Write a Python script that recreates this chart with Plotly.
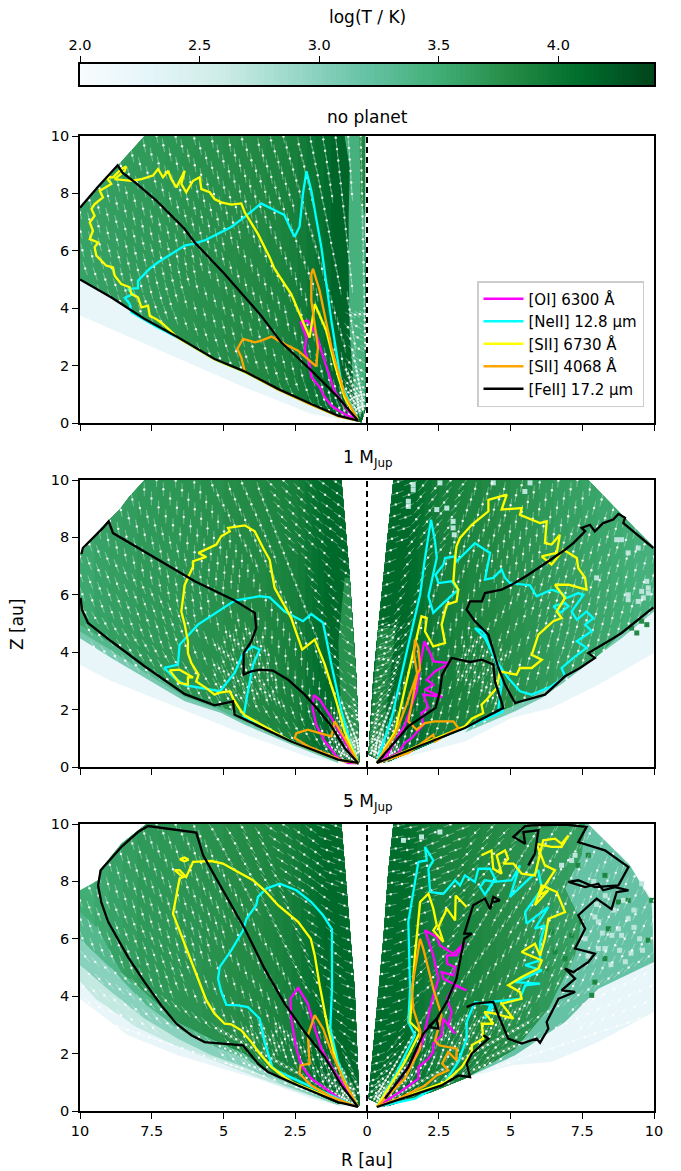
import numpy as np
import plotly.graph_objects as go

W, H = 681, 1171

# ---------- colour scale ----------
cb_min, cb_max = 2.0, 4.4
bugn_pos = [0, .125, .25, .375, .5, .625, .75, .875, 1]
bugn_hex = ["#f7fcfd", "#e5f5f9", "#ccece6", "#99d8c9", "#66c2a4", "#41ae76", "#238b45", "#006d2c", "#00441b"]
cb_ticks = [2.0, 2.5, 3.0, 3.5, 4.0]
r_ticks = [-10, -7.5, -5, -2.5, 0, 2.5, 5, 7.5, 10]
r_labels = ["10", "7.5", "5", "2.5", "0", "2.5", "5", "7.5", "10"]
z_ticks = [0, 2, 4, 6, 8, 10]

# ---------- temperature regions: outlines in au and logT bands ----------
p1l_pale = [(-0.3,.03),(-1.94,.31),(-4.26,1.24),(-7.17,2.52),(-10,3.75),(-10,5.2),(-1,1)]
p1l_wedge = [(-.2,.03),(-1.01,.24),(-1.94,.64),(-3.10,1.17),(-4.27,1.78),(-5.31,2.21),(-6.59,2.97),(-7.76,3.61),(-8.92,4.36),(-10,4.98),(-10,7.5),(-9.2,8.4),(-8.7,8.95),(-8.2,9.5),(-7.75,10),(-.08,10),(-.05,.5)]
p1l_bands = [(-10,3.6),(-9.5,3.62),(-9,3.64),(-8.5,3.66),(-8,3.67),(-7.5,3.69),(-7,3.71),(-6.5,3.73),(-6,3.75),(-5.5,3.76),(-5,3.78),(-4.5,3.8),(-4,3.82),(-3.5,3.85),(-3,3.88),(-2.7,3.91),(-2.4,3.95),(-2.1,3.99),(-1.8,4.04),(-1.5,4.09),(-1.25,4.16)]
p1l_strip = [(-.78,10),(-.6,8.9),(-.64,7.17),(-.64,5.42),(-.6,3.1),(-.43,.78),(-.26,.2),(-.06,.6),(-.06,10)]
p1l_strip_level = 3.45
p1l_core = [(-.26,10),(-.22,7.75),(-.06,7.2),(-.06,10)]
p1l_core_level = 3.85

p2l_pale = [(-.3,.05),(-1.94,.31),(-4.26,1.13),(-6.53,2.05),(-8.91,3.0),(-10,3.55),(-10,7),(-1,2)]
p2l_mid = [(-1.01,.14),(-2.64,.78),(-4.26,1.47),(-5.08,1.88),(-6.35,2.29),(-7.75,3.10),(-8.91,3.80),(-10,4.49),(-10,7),(-1,2)]
p2l_mid2 = [(-1.01,.2),(-2.64,.84),(-4.26,1.56),(-5.2,2.02),(-6.35,2.44),(-7.75,3.3),(-8.91,4.06),(-10,4.72),(-10,7),(-1,2)]
p2l_wedge = [(-.31,.1),(-1.01,.26),(-2.64,.89),(-4.26,1.65),(-4.61,1.94),(-5.31,2.17),(-6.35,2.58),(-7.75,3.51),(-8.91,4.32),(-10,4.96),(-10,7.45),(-9.2,8.4),(-8.6,9.0),(-8.3,9.4),(-7.75,10),(-.89,10),(-.6,6.59),(-.37,3.1),(-.26,.2)]
p2l_bands = [(-10,3.55),(-9.5,3.6),(-9,3.63),(-8.5,3.65),(-8,3.68),(-7.25,3.7),(-6.5,3.72),(-5.75,3.75),(-5,3.78),(-4.5,3.8),(-4,3.82),(-3.5,3.85),(-3,3.88),(-2.7,3.91),(-2.4,3.95),(-2.15,4.0),(-1.9,4.05),(-1.7,4.08),(-1.5,4.12)]
p2l_strip = [(-.78,6.6),(-1.0,4.3),(-.9,1.9),(-.43,.2),(-.26,.2),(-.37,3.1),(-.6,6.59)]
p2l_strip_level = 3.75

p3l_pale = [(-.78,.14),(-1.94,.43),(-3.68,1.07),(-4.84,1.42),(-6.59,1.94),(-8.33,2.64),(-10,3.91),(-10,7.69),(-1,3)]
p3l_pale2 = [(-.9,.17),(-2.4,.66),(-4.05,1.25),(-5.13,1.68),(-6.59,2.23),(-8.04,2.93),(-9.45,3.9),(-10,4.5),(-10,7.69),(-1,3)]
p3l_mid = [(-1,.2),(-2.87,.89),(-4.26,1.53),(-5.42,1.94),(-6.59,2.52),(-7.75,3.22),(-8.91,4.15),(-10,5.08),(-10,7.69),(-1,3)]
p3l_mid2 = [(-1,.26),(-3.1,1.13),(-4.26,1.82),(-5.42,2.29),(-6.59,2.87),(-7.75,3.74),(-8.91,4.96),(-10,6.0),(-10,7.69),(-1,3)]
p3l_wedge = [(-.26,.2),(-1,.26),(-3.1,1.18),(-4.26,2.0),(-5.42,2.52),(-6.59,3.1),(-7.75,4.15),(-8.56,4.84),(-9.37,6.35),(-10,6.93),(-10,7.69),(-9.37,8.04),(-9.31,8.39),(-8.56,9.31),(-7.69,10),(-.89,10),(-.72,7.75),(-.43,4.26)]
p3l_bands = [(-10,3.5),(-9.5,3.55),(-9,3.6),(-8.5,3.64),(-8,3.68),(-7.25,3.7),(-6.5,3.72),(-5.75,3.75),(-5,3.78),(-4.5,3.8),(-4,3.82),(-3.6,3.85),(-3.2,3.88),(-2.9,3.91),(-2.6,3.95),(-2.3,4.0),(-2,4.05),(-1.75,4.09),(-1.5,4.12)]

p2r_pale = [(.63,.1),(1.67,.43),(3.41,.89),(5.04,1.71),(6.43,2.06),(8.06,2.87),(10,3.97),(10,7.5),(5,3),(.6,.3)]
p2r_mid = [(3.41,1.2),(5.16,1.94),(6.09,2.40),(6.9,2.98),(7.94,3.8),(8.87,4.49),(10,5.42),(10,7.5),(5,3)]
p2r_wedge = [(.05,.43),(.22,3.1),(.39,4.84),(.57,6.59),(.74,8.33),(.92,10),(7.71,10),(8.53,9.14),(9.22,8.44),(9.98,7.69),(10,7.6),(10,5.55),(8.87,4.67),(7.94,3.8),(6.9,3.22),(6.09,2.64),(5.16,2.17),(4.75,2.0),(3.41,1.36),(2.25,.84),(.63,.14)]
p2r_bands = [(10,3.45),(9.65,3.47),(9.3,3.5),(8.9,3.53),(8.5,3.56),(8,3.59),(7.5,3.62),(7,3.65),(6.5,3.68),(6,3.72),(5.5,3.75),(5,3.79),(4.5,3.82),(4,3.85),(3.5,3.88),(3,3.91),(2.5,3.95),(2.25,4.0),(2,4.05),(1.75,4.09),(1.5,4.12)]
p2r_strip = [(.05,.43),(.39,4.84),(1.0,4.84),(.5,.43)]
p2r_strip_level = 3.85

p3r_pale = [(.63,.14),(2.25,.66),(3.41,1.13),(5.04,1.59),(6.43,1.71),(8.06,2.4),(10,3.45),(10,7.4),(9.92,7.4),(9.16,8.56),(8.87,8.91),(7.94,9.6),(7.71,10),(4,10)]
p3r_mid = [(3.41,1.13),(5.16,1.94),(6.9,3.10),(8.06,4.26),(10,5.19),(9.92,7.28),(9.16,8.56),(7.71,10),(4,10)]
p3r_wedge = [(.05,.43),(.28,2.87),(.57,6.0),(.74,8.33),(.92,10),(7.6,10),(7.48,8.91),(6.9,7.75),(7.48,6.59),(7.25,5.42),(6.32,3.57),(5.16,2.17),(3.41,1.13),(2.25,.66),(.63,.14)]
p3r_bands = [(7.6,3.62),(7.0,3.65),(6.5,3.68),(6,3.72),(5.5,3.75),(5,3.79),(4.5,3.82),(4,3.85),(3.5,3.88),(3,3.9),(2.5,3.92),(2.25,3.96),(2,4.0),(1.75,4.05),(1.5,4.1)]

mid_level, mid2_level, pale_level = 3.1, 3.2, 2.25

# isolated grid cells read from the right-hand halves
p2r_cells_light = [(1.61,9.84),(1.61,9.66),(1.44,9.26),(1.44,9.08),(2.54,9.9),(3.0,8.56),(3.0,8.33),(3.04,8.09),(2.78,9.02),(5.5,9.6),(4.4,9.9),(5.68,9.9),(8.7,7.92),(8.87,7.92),(9.1,7.46),(9.45,7.63),(8.0,6.59),(9.1,6.0),(9.1,5.83),(9.57,6.12),(9.75,6.47),(9.63,5.89),(9.45,5.77),(9.8,6.06),(9.8,6.24),(2.43,8.97)]
p2r_cells_dark = [(9.57,5.08),(9.75,4.96),(9.22,4.84),(9.4,4.67)]
p3r_cells_light = [(1.27,9.43),(2.54,9.72),(1.9,9.55),(6.78,8.56),(7.25,8.91),(7.13,8.73),(7.94,6.76),(8.06,6.59),(8.76,6.35),(9.1,6.7),(8.87,6.12),(9.57,7.92),(8.93,7.34),(8.53,6.12),(8.06,5.66),(8.29,5.66),(7.6,6.0),(7.9,8.0),(8.3,7.5),(8.6,7.0),(9.3,6.4),(9.5,6.0),(8.2,6.2),(8.8,5.6),(9.2,5.5),(7.7,5.4),(8.5,5.1),(9.0,5.2),(9.6,5.6),(8.0,7.2),(9.3,7.0)]
p3r_cells_dark = [(7.36,8.56),(7.71,8.91),(8.29,8.21),(9.1,7.34),(8.41,6.35),(9.8,5.95),(9.92,7.34),(7.83,4.03),(7.94,4.49),(6.9,5.31),(6.55,5.54),(7.13,6.12),(6.43,6.24),(7.48,6.59),(8.76,7.28),(8.29,5.31),(6.26,4.96)]

# ---------- velocity field: polar sampling and lean of flow per polar-angle bin ----------
flow_r = [.5,.7,.9,1.1,1.4,1.7,2.0,2.4,2.8,3.2,3.6,4.0,4.4,4.8,5.2,5.6,6.0,6.4,6.8,7.2,7.6,8.0,8.4,8.8,9.2,9.6,10.0,10.4,10.8,11.2,11.6,12.0,12.4,12.8]
flow_skip = [6,5,4,4,4,4,4,4,3,3,3,3,3,2,2,2,2,2,2,2,2,1,1,1,1,1,1,1,1,1,1,1,1,1]
dense_r = [.6,.8,1.0,1.25,1.55,1.85,2.2,2.6,3.0,3.4,3.8,4.2,4.6,5.0,5.4,5.8,6.2,6.6]
dense_skip = [3,3,2,2,2,2,2,2,2,2,1,1,1,1,1,1,1,1]
flow_theta = [1.25,3.75,6.25,8.75,11.25,13.75,16.25,18.75,21.25,23.75,26.25,28.75,31.25,33.75,36.25,38.75,41.25,43.75,46.25,48.75,51.25,53.75,56.25,58.75,61.25,63.75,66.25,68.75,71.25,73.75,76.25,78.75,81.25,83.75,86.25]
lean_edges = [10,20,30,40,50,60,70,80]
p1l_lean = [5,8,8,10,12,14,18,30,40]
p2l_lean = [55,45,15,0,10,20,30,55,70]
p2r_lean = [70,40,10,5,15,15,15,40,60]
p3l_lean = [70,55,35,15,15,20,40,70,80]
p3r_lean = [80,70,45,25,20,25,45,70,80]
p1_dense = [[(-.7,.1),(-.05,.1),(-.05,4),(-.7,4)]]
p2l_dense = [[(-.2,.1),(-1.5,.6),(-1.0,2.4),(-.4,2.4)],[(-5.2,4.8),(-3.7,4.8),(-3.0,2.2),(-5.5,2.4)]]
p2r_dense = [[(.1,.1),(1.2,.6),(1.0,3.0),(.2,3.0)],[(.4,5.0),(1.4,5.0),(.8,2.5),(.3,2.5)],[(3.5,4.8),(5,4),(4.5,2.2),(3,3.2)]]
p3l_dense = [[(-.3,.1),(-5,1.6),(-5.2,3.0),(-3.2,3),(-1,2)]]
p3r_dense = [[(.1,.1),(3,1),(5.5,2.2),(6,4),(3.8,3.4),(1,2.5)]]

# ---------- line-emission contours, au ----------
p1_oi = [(-.31,.08),(-.78,.31),(-1.24,.6),(-1.47,.9),(-1.65,1.25),(-1.94,1.6),(-2.0,2.06),(-2.17,2.52),(-2.11,2.98),(-2.31,3.51),(-2.06,3.57),(-1.77,3.1),(-1.48,2.16),(-1.13,1.1),(-.66,.43),(-.31,.08)]
p1_ne = [(-.31,.08),(-1.01,.24),(-1.94,.64),(-3.10,1.17),(-4.27,1.78),(-5.31,2.21),(-6.59,2.97),(-7.34,3.35),(-8.21,3.86),(-8.27,4.15),(-8.44,4.36),(-8.15,4.50),(-8.33,4.67),(-7.98,4.70),(-7.98,4.96),(-7.58,5.37),(-7.28,5.60),(-6.93,5.83),(-6.35,6.18),(-6.06,6.24),(-5.66,6.36),(-5.08,6.65),(-4.73,6.83),(-4.26,7.18),(-3.69,7.65),(-3.11,7.36),(-2.88,7.25),(-2.64,6.72),(-2.52,6.49),(-2.35,6.84),(-2.23,8.0),(-2.11,8.77),(-1.94,8.09),(-1.59,6.12),(-1.24,3.56),(-.89,1.35),(-.31,.08)]
p1_s6730 = [(-.31,.08),(-1.01,.24),(-1.94,.64),(-3.10,1.17),(-4.27,1.78),(-5.31,2.21),(-6.59,2.97),(-6.93,3.28),(-7.11,3.45),(-7.34,3.62),(-7.57,3.74),(-7.63,4.09),(-7.86,4.03),(-7.98,4.38),(-8.21,4.49),(-8.27,4.73),(-8.56,4.84),(-8.79,5.13),(-8.85,5.42),(-9.08,5.48),(-9.43,5.83),(-9.49,6.12),(-9.37,6.29),(-9.66,6.41),(-9.55,6.70),(-9.66,6.99),(-9.49,7.22),(-9.60,7.46),(-9.49,7.63),(-9.20,7.86),(-9.31,8.09),(-8.91,8.33),(-9.08,8.56),(-8.85,8.56),(-8.56,8.85),(-8.39,8.94),(-8.44,8.79),(-8.79,8.50),(-8.21,8.44),(-7.86,8.50),(-7.46,8.62),(-7.28,8.85),(-7.11,8.56),(-6.93,8.79),(-6.82,8.50),(-6.64,8.21),(-6.35,8.79),(-6.47,8.33),(-6.30,8.04),(-6.06,8.44),(-5.83,8.56),(-5.77,8.15),(-5.48,8.04),(-5.31,7.80),(-5.08,7.69),(-4.73,7.61),(-4.38,7.65),(-4.26,7.34),(-3.80,6.59),(-3.39,5.77),(-3.22,5.37),(-2.64,4.49),(-2.29,3.68),(-2.0,2.98),(-1.82,4.15),(-1.42,3.22),(-1.13,2.06),(-.78,.89),(-.31,.08)]
p1_s4068 = [(-.31,.08),(-1.01,.24),(-1.94,.64),(-3.10,1.17),(-4.26,1.80),(-4.38,2.29),(-4.52,2.58),(-4.32,2.93),(-3.91,2.81),(-3.68,2.87),(-3.33,3.01),(-2.87,2.75),(-2.40,2.52),(-1.77,1.97),(-1.71,2.64),(-1.94,4.26),(-1.94,5.19),(-1.88,5.37),(-1.65,4.61),(-1.24,2.64),(-.78,1.01),(-.31,.08)]
p1_fe = [(-.31,.08),(-1.01,.26),(-1.94,.66),(-3.10,1.19),(-4.27,1.80),(-5.31,2.23),(-6.59,2.99),(-7.76,3.63),(-8.92,4.38),(-10,5.0),None,(-10,7.5),(-9.38,8.22),(-8.69,8.98),(-8.51,8.71),(-8.05,8.36),(-7.64,8.01),(-7.35,7.76),(-7.0,7.41),(-6.36,6.77),(-6.01,6.30),(-4.97,5.20),(-3.69,3.74),(-2.99,2.81),(-1.94,1.83),(-1.01,.90),(-.31,.08)]

p2_oi = [(-.31,.14),(-.78,.89),(-1.24,1.71),(-1.65,2.35),(-1.85,2.50),(-1.90,2.06),(-1.77,1.47),(-1.47,.89),(-1.01,.31),(-.66,.14),(-.31,.14),None,
         (.34,.14),(1.09,.49),(1.32,.84),(1.56,1.01),(1.96,1.47),(1.90,1.88),(2.14,2.06),(1.96,2.52),(2.62,2.44),(2.02,2.69),(2.31,2.87),(2.08,3.04),(2.37,3.33),(2.89,3.62),(2.31,3.68),(2.20,3.97),(2.0,4.38),(1.85,3.57),(1.73,2.64),(1.32,1.47),(.63,.31),(.34,.14)]
p2_ne = [(-.31,.14),(-1.01,.26),(-2.64,.89),(-4.30,1.77),(-4.15,2.64),(-3.97,3.57),(-3.74,4.09),(-3.97,4.20),(-4.32,3.97),(-4.61,3.28),(-5.13,2.64),(-6.35,2.85),(-6.70,3.10),(-7.07,3.45),(-6.59,3.57),(-6.53,4.26),(-5.89,4.96),(-4.61,5.80),(-3.74,5.95),(-3.39,5.91),(-2.87,5.42),(-2.23,5.08),(-1.94,5.33),(-1.53,5.02),(-1.24,3.57),(-.89,1.94),(-.60,.89),(-.31,.14),None,
         (.34,.14),(.86,1.71),(1.44,4.26),(1.85,6.0),(2.02,7.28),(2.23,8.62),(2.37,7.86),(2.43,7.28),(2.14,5.95),(2.31,5.37),(2.66,5.71),(3.18,6.18),(2.95,6.47),(2.49,6.41),(2.39,6.70),(2.66,7.05),(2.72,7.28),(3.07,7.34),(3.12,7.17),(3.76,7.80),(4.11,7.57),(4.29,7.46),(4.11,6.53),(4.40,6.59),(4.69,6.88),(4.81,6.59),(4.98,6.41),(5.68,6.33),(5.91,5.95),(6.43,6.18),(6.78,6.06),(6.96,5.89),(7.36,6.06),(7.54,6.0),(7.13,5.42),(7.31,5.13),(7.65,5.42),(7.89,5.19),(7.60,4.96),(7.83,4.73),(7.31,4.38),(7.65,4.15),(7.19,3.80),(6.78,3.45),(6.90,3.16),(6.43,2.81),(5.74,2.52),(5.33,2.64),(4.92,3.10),(4.52,3.68),(4.11,4.49),(3.76,4.84),(4.05,4.73),(4.58,3.45),(4.69,2.87),(4.58,2.06),(4.75,1.94),(3.41,1.36),(1.09,.43),(.34,.14),None,
         (6.49,5.6),(6.9,5.71),(7.02,5.6),(6.73,5.37),(6.49,5.6)]
p2_s6730 = [(-.31,.14),(-1.01,.26),(-2.64,.89),(-4.26,1.80),(-4.38,1.94),(-4.67,2.40),(-4.78,2.64),(-5.19,2.58),(-5.31,2.52),(-5.60,2.75),(-5.95,2.98),(-5.87,3.22),(-6.12,3.62),(-6.24,3.97),(-6.24,4.38),(-6.35,4.96),(-6.47,5.42),(-6.35,6.35),(-6.06,6.99),(-6.06,7.17),(-5.60,7.32),(-5.87,7.46),(-5.25,7.75),(-5.08,8.04),(-4.78,8.21),(-4.84,8.33),(-4.26,8.42),(-3.91,8.21),(-3.62,7.63),(-3.39,7.22),(-3.22,6.24),(-2.64,5.19),(-2.26,4.09),(-1.82,4.44),(-1.47,3.57),(-1.07,2.29),(-.78,1.24),(-.31,.14),None,
            (-6.88,3.37),(-6.53,3.39),(-6.06,3.12),(-6.24,3.12),(-6.24,2.87),(-6.53,2.93),(-6.76,3.22),(-6.88,3.37),None,
            (.34,.14),(3.41,1.42),(3.65,1.68),(4.05,1.88),(3.99,2.17),(4.17,2.35),(4.52,2.75),(4.63,3.33),(5.21,3.22),(5.33,3.45),(5.74,3.45),(6.09,3.74),(5.74,3.91),(5.97,4.61),(6.49,5.08),(6.78,5.19),(6.61,5.42),(6.90,5.89),(6.55,6.35),(7.02,6.35),(7.65,6.18),(7.60,6.59),(7.36,6.93),(7.31,7.28),(6.84,7.57),(6.43,7.05),(6.09,7.34),(6.61,7.46),(6.72,8.09),(6.43,7.75),(6.20,7.80),(6.26,8.56),(6.03,8.50),(5.33,8.79),(5.39,9.02),(4.69,8.97),(4.87,9.49),(4.23,9.31),(4.23,8.91),(3.65,8.44),(3.24,7.98),(3.12,7.69),(3.07,7.28),(3.01,6.47),(3.18,6.18),(3.12,5.77),(2.78,5.66),(2.60,4.96),(2.72,4.32),(2.31,4.20),(2.02,4.73),(2.08,5.19),(1.90,5.25),(1.44,3.22),(.98,1.24),(.34,.14)]
p2_s4068 = [(-.31,.14),(-.78,1.01),(-1.13,1.59),(-1.24,1.07),(-1.65,1.18),(-2.06,1.30),(-2.46,1.18),(-2.52,1.01),(-2.06,.72),(-1.36,.43),(-.78,.20),(-.31,.14),None,
            (.34,.14),(.98,1.13),(1.38,2.17),(1.73,3.22),(1.85,3.39),(1.79,4.15),(1.67,4.44),(1.64,3.91),(1.75,3.22),(1.44,1.59),(1.73,1.30),(2.02,1.53),(2.37,1.59),(2.78,1.59),(3.01,1.59),(3.18,1.36),(2.37,.89),(2.31,1.13),(1.44,.49),(.34,.14)]
p2_fe = [(-.31,.14),(-1.01,.26),(-2.64,.89),(-4.26,1.65),(-4.61,1.82),(-4.67,2.29),(-5.31,2.15),(-6.35,2.54),(-7.75,3.51),(-8.91,4.38),(-9.72,5.02),(-9.93,5.48),(-9.98,5.89),None,
         (-9.95,7.42),(-9.90,7.63),(-9.20,8.33),(-9.00,8.56),(-8.85,8.15),(-7.28,7.22),(-6.00,6.47),(-4.61,5.80),(-3.91,5.37),(-3.86,4.84),(-4.03,4.38),(-4.30,3.97),(-4.30,3.22),(-4.03,3.33),(-3.74,3.39),(-3.28,3.36),(-2.75,3.04),(-2.17,2.52),(-1.71,2.0),(-1.24,1.42),(-.78,.66),(-.31,.14),None,
         (.34,.14),(1.44,1.42),(2.39,2.06),(2.54,2.64),(2.62,3.22),(2.95,3.80),(3.59,3.66),(4.0,3.74),(4.40,3.57),(4.46,2.98),(4.75,2.06),(3.41,1.36),(.34,.14),None,
         (9.98,7.63),(9.34,8.15),(8.93,8.50),(8.99,8.68),(8.76,8.82),(8.58,8.62),(8.23,8.50),(7.94,8.21),(7.77,8.44),(7.48,8.33),(7.60,8.21),(7.19,7.80),(6.90,7.57),(6.32,7.17),(5.62,6.70),(5.04,6.35),(4.69,6.18),(4.11,6.06),(4.0,5.77),(3.59,5.77),(3.47,5.48),(3.76,5.08),(4.23,4.61),(4.58,3.45),(4.81,2.87),(5.16,2.23),(6.20,2.52),(6.90,3.16),(7.42,3.45),(7.94,3.80),(7.71,3.97),(8.58,4.49),(8.87,4.67),(9.98,5.56)]

p3_oi = [(-.31,.14),(-.78,.31),(-1.94,1.13),(-2.29,1.59),(-2.46,2.17),(-2.64,3.22),(-2.67,3.91),(-2.40,4.29),(-2.06,3.74),(-1.82,2.87),(-1.59,2.17),(-1.13,1.36),(-.66,.66),(-.31,.14),None,
         (.34,.14),(1.32,.78),(1.79,1.13),(1.79,1.53),(2.14,1.82),(2.31,2.06),(2.31,2.35),(2.60,2.64),(2.66,3.22),(3.07,2.69),(2.83,2.98),(2.95,3.45),(2.78,3.91),(3.07,4.38),(3.47,4.20),(2.66,4.61),(2.60,4.84),(3.01,4.73),(3.07,5.02),(2.79,5.13),(2.78,5.42),(3.12,5.42),(3.41,5.87),(3.01,5.48),(2.54,5.77),(2.43,6.06),(2.02,6.30),(2.31,5.42),(2.49,4.61),(2.25,3.80),(1.90,2.29),(1.09,1.01),(.34,.14)]
p3_ne = [(-.31,.14),(-1.94,.84),(-3.10,1.38),(-3.30,1.53),(-3.57,2.40),(-3.74,3.22),(-4.15,3.62),(-4.49,3.68),(-4.90,3.70),(-5.08,4.15),(-5.19,4.61),(-5.13,5.02),(-4.73,5.60),(-4.32,6.29),(-4.20,6.70),(-3.86,7.17),(-3.80,7.46),(-3.51,7.75),(-3.04,7.92),(-2.46,7.69),(-1.94,7.28),(-1.53,6.82),(-1.22,6.33),(-1.22,4.26),(-1.28,2.87),(-1.01,1.71),(-.66,.78),(-.31,.14),None,
         (.34,.14),(.98,1.24),(1.67,2.64),(1.44,3.10),(1.50,4.26),(1.44,6.0),(1.44,6.59),(1.79,8.68),(2.08,8.73),(2.02,9.20),(2.31,8.73),(2.14,8.44),(2.20,7.63),(2.66,7.57),(3.07,8.04),(3.24,7.86),(3.41,8.21),(3.76,7.98),(3.88,8.44),(4.29,8.44),(4.52,7.98),(4.11,8.04),(3.94,7.80),(4.11,7.54),(4.40,7.98),(5.04,8.04),(5.33,8.56),(4.98,7.46),(5.80,8.21),(5.97,8.39),(6.09,7.75),(5.51,6.93),(5.56,6.53),(6.32,7.11),(5.85,6.35),(6.20,6.47),(6.03,5.89),(6.03,5.25),(5.51,5.08),(6.09,4.90),(5.16,4.49),(6.03,4.44),(5.51,4.38),(5.33,3.91),(4.34,3.80),(4.11,3.22),(4.40,3.68),(3.76,3.80),(3.47,3.10),(3.47,2.52),(3.18,1.71),(2.72,1.01),(1.67,.43),(.34,.14)]
p3_s6730 = [(-.31,.14),(-1.47,.55),(-2.64,1.01),(-3.33,1.53),(-3.74,2.0),(-4.03,2.40),(-4.38,2.81),(-4.73,3.02),(-4.96,3.04),(-5.31,3.39),(-5.60,3.86),(-5.89,4.61),(-6.24,5.54),(-6.53,6.24),(-6.76,6.88),(-6.53,8.10),(-6.41,8.15),(-6.70,8.39),(-6.53,8.39),(-6.30,8.15),(-6.06,8.68),(-5.42,8.71),(-5.02,8.62),(-4.38,8.27),(-3.97,8.04),(-3.57,7.69),(-3.10,7.17),(-2.40,6.59),(-1.96,6.0),(-1.82,5.42),(-1.65,4.38),(-1.36,2.87),(-1.07,1.71),(-.72,.89),(-.31,.14),None,
            (-6.53,8.77),(-6.36,8.83),(-6.22,8.76),(-6.36,8.70),(-6.53,8.77),None,
            (.34,.14),(1.32,1.71),(1.85,2.75),(1.50,3.10),(1.67,5.42),(1.85,7.28),(2.14,7.57),(2.31,7.05),(2.43,6.47),(2.31,6.29),(2.66,5.89),(2.49,6.41),(2.78,7.05),(3.07,6.64),(3.09,7.51),(3.47,7.11),None,
            (.34,.14),(2.72,1.01),(3.30,1.53),(3.65,2.06),(3.65,2.29),(4.05,2.52),(4.0,3.04),(4.40,3.04),(4.09,3.45),(4.46,3.39),(5.10,3.22),(4.69,3.74),(5.39,3.91),(5.33,4.15),(4.92,4.38),(5.39,4.67),(5.97,4.96),(6.09,5.25),(5.39,5.54),(5.85,5.83),(6.03,5.42),(6.20,6.0),(6.32,6.70),(6.90,6.93),(6.61,7.63),(6.09,7.86),(5.85,7.17),(6.32,7.69),(5.97,7.51),(6.55,8.39),(6.20,8.56),(5.91,9.31),(6.43,9.20),(6.78,9.20),(7.02,9.60),(6.78,9.31),(6.55,9.49),(6.14,9.43),(5.85,8.21),(5.39,8.27),(5.10,8.62),(4.75,8.62),(4.92,8.79),(4.81,9.08),(4.52,8.91),(4.69,8.27),(4.40,8.44),(4.34,9.08),(3.99,8.91)]
p3_s4068 = [(-.31,.14),(-1.24,.49),(-1.94,.89),(-2.35,1.30),(-2.32,1.59),(-2.0,1.65),(-2.06,2.64),(-1.82,3.34),(-1.53,2.87),(-1.24,2.06),(-.78,1.01),(-.31,.14),None,
            (.34,.14),(1.32,1.13),(1.85,2.17),(1.85,2.81),(1.61,3.57),(1.56,4.26),(1.85,6.0),(1.96,5.66),(2.31,4.26),(2.60,3.33),(2.37,2.46),(2.51,2.29),(3.12,2.17),(3.12,1.77),(2.83,2.06),(2.62,1.65),(2.83,1.42),(2.43,1.24),(2.02,.89),(1.09,.43),(.34,.14)]
p3_fe = [(-.31,.14),(-1.01,.31),(-2.40,.89),(-3.45,1.36),(-3.80,1.65),(-4.32,2.29),(-5.66,2.40),(-6.12,2.64),(-6.64,3.04),(-7.17,3.68),(-7.75,4.49),(-8.33,5.37),(-9.02,6.59),(-9.26,7.28),(-9.37,7.86),(-9.28,8.39),(-8.56,9.20),(-7.98,9.72),(-7.63,9.93),(-5.95,9.70),(-5.71,8.91),(-5.19,7.98),(-4.26,6.35),(-3.57,4.96),(-2.87,3.74),(-2.17,2.75),(-1.47,1.88),(-.89,.89),(-.31,.14),None,
         (.34,.14),(2.60,.89),(3.18,1.24),(3.59,1.18),(3.47,1.65),(3.65,2.0),(4.23,2.52),(4.05,2.64),None,
         (.63,.43),(1.44,1.53),(1.96,2.69),(2.43,3.22),(2.49,2.87),(2.14,2.93),(2.43,3.22),(2.78,3.80),(3.12,4.61),(3.30,5.54),(3.39,6.0),(3.65,6.18),(3.39,6.18),(3.70,7.17),(4.11,7.40),(4.29,7.03),(4.40,7.46),(4.63,7.34),(4.40,7.28),None,
         (3.47,3.62),(3.76,3.74),(4.40,3.80),(4.58,3.33),(4.92,2.52),(5.39,2.35),(5.91,2.52),(6.03,2.38),(6.32,2.87),(6.26,3.10),(6.67,3.91),(7.25,4.15),(6.78,4.20),(7.25,4.61),(6.90,4.96),(7.19,4.84),(7.71,5.19),(7.94,5.48),(7.25,5.66),(7.60,6.35),(7.36,6.82),(8.0,7.40),(8.52,7.03),(8.70,7.63),(9.11,7.69),(8.64,7.80),(8.23,7.69),(8.06,7.92),(7.60,7.80),(7.02,7.98),(7.36,8.04),(7.94,7.80),(8.76,7.86),(9.11,8.50),(8.29,9.08),(7.60,9.31),(7.36,9.37),(7.65,9.90),(6.90,9.98),(5.74,9.95),(5.51,9.93),(5.10,9.55),(5.51,9.31),(5.45,9.72),(5.97,9.78),(5.85,8.97),(5.62,8.56)]

line_names = ["[OI] 6300 Å", "[NeII] 12.8 µm", "[SII] 6730 Å", "[SII] 4068 Å", "[FeII] 17.2 µm"]
line_colors = ["#ff00ff", "#00ffff", "#ffff00", "#ffa500", "#000000"]


# ---------- helpers ----------
def hex_rgb(h):
    return [int(h[i:i+2], 16) for i in (1, 3, 5)]

rgb_table = np.array([hex_rgb(h) for h in bugn_hex])

def level_color(v):
    t = (v - cb_min) / (cb_max - cb_min)
    c = [np.interp(t, bugn_pos, rgb_table[:, i]) for i in range(3)]
    return "rgb(%d,%d,%d)" % tuple(int(round(k)) for k in c)

def xy(pts):
    xs = [None if p is None else p[0] for p in pts]
    ys = [None if p is None else p[1] for p in pts]
    return xs, ys

def clip(poly, cut, keep_right):
    out = []
    inside = (lambda p: p[0] >= cut) if keep_right else (lambda p: p[0] <= cut)
    for i, a in enumerate(poly):
        b = poly[(i + 1) % len(poly)]
        if inside(a):
            out.append(a)
        if inside(a) != inside(b):
            s = (cut - a[0]) / (b[0] - a[0])
            out.append((cut, a[1] + s * (b[1] - a[1])))
    return out

def in_poly(x, y, poly):
    c = False
    for i, a in enumerate(poly):
        b = poly[i - 1]
        if (a[1] > y) != (b[1] > y) and x < a[0] + (y - a[1]) * (b[0] - a[0]) / (b[1] - a[1]):
            c = not c
    return c

fig = go.Figure()

def region(poly, level, ax):
    xs, ys = xy(poly)
    fig.add_trace(go.Scatter(x=xs, y=ys, mode="lines", fill="toself", fillcolor=level_color(level),
                             line=dict(width=0, color=level_color(level)), hoverinfo="skip",
                             showlegend=False, xaxis="x" + ax, yaxis="y" + ax))

def bands(poly, table, ax, left):
    for cut, level in table:
        part = clip(poly, cut, left)
        if part:
            region(part, level, ax)

def cells(pts, level, ax):
    xs, ys = xy(pts)
    fig.add_trace(go.Scatter(x=xs, y=ys, mode="markers", hoverinfo="skip", showlegend=False,
                             marker=dict(symbol="square", size=5, color=level_color(level), line=dict(width=0)),
                             xaxis="x" + ax, yaxis="y" + ax))

def flow(outlines, lean, side, ax, rings=flow_r, skips=flow_skip, half=.24):
    lx, ly, dx, dy = [], [], [], []
    for r, skip in zip(rings, skips):
        for th in flow_theta[::skip]:
            t = np.radians(th)
            x, y = side * r * np.sin(t), r * np.cos(t)
            if abs(x) > 10 or y > 10 or not any(in_poly(x, y, o) for o in outlines):
                continue
            a = np.radians(lean[int(np.digitize(th, lean_edges))])
            ux, uy = side * np.sin(a) * half, np.cos(a) * half
            lx += [x - ux, x + ux, None]
            ly += [y - uy, y + uy, None]
            dx.append(x)
            dy.append(y)
    fig.add_trace(go.Scatter(x=lx, y=ly, mode="lines", line=dict(color="rgba(255,255,255,0.5)", width=.7),
                             hoverinfo="skip", showlegend=False, xaxis="x" + ax, yaxis="y" + ax))
    fig.add_trace(go.Scatter(x=dx, y=dy, mode="markers", marker=dict(color="rgba(255,255,255,0.9)", size=2.4, line=dict(width=0)),
                             hoverinfo="skip", showlegend=False, xaxis="x" + ax, yaxis="y" + ax))

def contours(series, ax, legend=False):
    for i, pts in enumerate(series):
        xs, ys = xy(pts)
        fig.add_trace(go.Scatter(x=xs, y=ys, mode="lines", name=line_names[i], legendgroup=line_names[i],
                                 showlegend=legend, line=dict(color=line_colors[i], width=2.3),
                                 hoverinfo="skip", xaxis="x" + ax, yaxis="y" + ax))
    fig.add_trace(go.Scatter(x=[0, 0], y=[0, 10], mode="lines", showlegend=False, hoverinfo="skip",
                             line=dict(color="black", width=2, dash="6px,4px"), xaxis="x" + ax, yaxis="y" + ax))


# ---------- panel 1 ----------
region(p1l_pale, pale_level, "")
bands(p1l_wedge, p1l_bands, "", True)
region(p1l_strip, p1l_strip_level, "")
region(p1l_core, p1l_core_level, "")
flow([p1l_wedge], p1l_lean, -1, "")
flow(p1_dense, [60, 40, 40, 40, 40, 40, 40, 40, 40], -1, "", dense_r, dense_skip, .2)
contours([p1_oi, p1_ne, p1_s6730, p1_s4068, p1_fe], "", True)

# ---------- panel 2 ----------
region(p2l_pale, pale_level, "2")
region(p2l_mid, mid_level, "2")
region(p2l_mid2, 3.35, "2")
bands(p2l_wedge, p2l_bands, "2", True)
region(p2l_strip, p2l_strip_level, "2")
region(p2r_pale, pale_level, "2")
region(p2r_mid, mid_level, "2")
bands(p2r_wedge, p2r_bands, "2", False)
region(p2r_strip, p2r_strip_level, "2")
cells(p2r_cells_light, 2.7, "2")
cells(p2r_cells_dark, 3.8, "2")
flow([p2l_wedge, p2l_mid], p2l_lean, -1, "2")
flow([p2r_wedge, p2r_mid], p2r_lean, 1, "2")
flow(p2l_dense, p2l_lean, -1, "2", dense_r, dense_skip, .2)
flow(p2r_dense, p2r_lean, 1, "2", dense_r, dense_skip, .2)
contours([p2_oi, p2_ne, p2_s6730, p2_s4068, p2_fe], "2")

# ---------- panel 3 ----------
region(p3l_pale, pale_level, "3")
region(p3l_pale2, 2.65, "3")
region(p3l_mid, 3.0, "3")
region(p3l_mid2, 3.35, "3")
bands(p3l_wedge, p3l_bands, "3", True)
region(p3r_pale, pale_level, "3")
region(p3r_mid, mid2_level, "3")
bands(p3r_wedge, p3r_bands, "3", False)
cells(p3r_cells_light, 2.7, "3")
cells(p3r_cells_dark, 3.85, "3")
flow([p3l_wedge, p3l_pale], p3l_lean, -1, "3")
flow([p3r_wedge, p3r_pale], p3r_lean, 1, "3")
flow(p3l_dense, p3l_lean, -1, "3", dense_r, dense_skip, .2)
flow(p3r_dense, p3r_lean, 1, "3", dense_r, dense_skip, .2)
contours([p3_oi, p3_ne, p3_s6730, p3_s4068, p3_fe], "3")

# ---------- colour bar ----------
cb_x = list(np.arange(2.0, 4.41, .02))
fig.add_trace(go.Heatmap(x=cb_x, y=[0, 1], z=[cb_x, cb_x], zmin=cb_min, zmax=cb_max, showscale=False,
                         colorscale=[[p, c] for p, c in zip(bugn_pos, bugn_hex)], hoverinfo="skip",
                         xaxis="x4", yaxis="y4"))

# ---------- layout ----------
def ydom(top, bot):
    return [1 - bot / H, 1 - top / H]

x_dom = [80 / W, 654 / W]
xmid = .5 * (x_dom[0] + x_dom[1])
axis_style = dict(showline=True, mirror=True, linecolor="black", linewidth=1.6, ticks="outside", ticklen=6,
                  tickwidth=1.3, tickcolor="black", showgrid=False, zeroline=False, automargin=False,
                  tickfont=dict(size=14.5, color="black"))
xkw = dict(axis_style, range=[-10, 10], tickvals=r_ticks, domain=x_dom)
ykw = dict(axis_style, range=[0, 10], tickvals=z_ticks)

def note(text, yp, size=17, x=xmid, angle=0):
    return dict(text=text, x=x, y=1 - yp / H, xref="paper", yref="paper", showarrow=False,
                font=dict(size=size), textangle=angle, xanchor="center", yanchor="middle")

fig.update_layout(
    width=W, height=H, margin=dict(l=0, r=0, t=0, b=0), autosize=False,
    paper_bgcolor="white", plot_bgcolor="white",
    font=dict(family="DejaVu Sans", color="black", size=14.5),
    xaxis=dict(xkw, showticklabels=False, anchor="y"),
    yaxis=dict(ykw, domain=ydom(136, 423), anchor="x"),
    xaxis2=dict(xkw, showticklabels=False, anchor="y2"),
    yaxis2=dict(ykw, domain=ydom(480, 767), anchor="x2"),
    xaxis3=dict(xkw, ticktext=r_labels, anchor="y3"),
    yaxis3=dict(ykw, domain=ydom(824, 1111), anchor="x3"),
    xaxis4=dict(axis_style, range=[2.0, 4.4], domain=x_dom, side="top", anchor="y4", tickvals=cb_ticks,
                ticktext=[f"{t:.1f}" for t in cb_ticks]),
    yaxis4=dict(showline=True, mirror=True, linecolor="black", linewidth=1.6, range=[0, 1], showticklabels=False,
                ticks="", showgrid=False, zeroline=False, automargin=False, domain=ydom(64, 85), anchor="x4"),
    legend=dict(x=477 / W, y=1 - 281 / H, xanchor="left", yanchor="top", bgcolor="rgba(255,255,255,0.8)",
                bordercolor="#cccccc", borderwidth=1.5, tracegroupgap=13, font=dict(size=15), traceorder="normal",
                itemwidth=40),
    annotations=[
        note("log(T / K)", 17),
        note("no planet", 117),
        note("1 M<sub>Jup</sub>", 458),
        note("5 M<sub>Jup</sub>", 802),
        note("R [au]", 1160),
        note("Z [au]", 624, x=17 / W, angle=-90),
    ],
)

fig.write_html("out.html", config={"displayModeBar": False},
               post_script="document.body.style.margin='0';document.documentElement.style.overflow='hidden';")
